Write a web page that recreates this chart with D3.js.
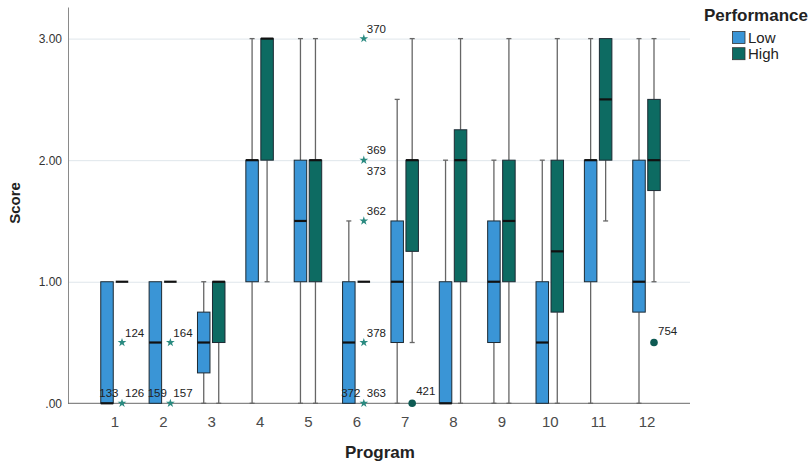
<!DOCTYPE html>
<html>
<head>
<meta charset="utf-8">
<script src="https://cdn.jsdelivr.net/npm/d3@7/dist/d3.min.js"></script>
<style>
  html, body { margin: 0; padding: 0; background: #fff; }
  svg { display: block; font-family: "Liberation Sans", Arial, sans-serif; }
</style>
</head>
<body>
<svg id="chart" width="812" height="464"></svg>
<script>
// ---- Data ----
const programs = ["1","2","3","4","5","6","7","8","9","10","11","12"];
const groups = ["Low", "High"];
const yTicks = [0, 1, 2, 3];
// [whiskerLow, q1, median, q3, whiskerHigh] per program
const lowStats = [
  [0, 0, 0, 1, 1],
  [0, 0, 0.5, 1, 1],
  [0, 0.25, 0.5, 0.75, 1],
  [0, 1, 2, 2, 3],
  [0, 1, 1.5, 2, 3],
  [0, 0, 0.5, 1, 1.5],
  [0, 0.5, 1, 1.5, 2.5],
  [0, 0, 0, 1, 2],
  [0, 0.5, 1, 1.5, 2],
  [0, 0, 0.5, 1, 2],
  [0, 1, 2, 2, 3],
  [0, 0.75, 1, 2, 3]
];
const highStats = [
  [1, 1, 1, 1, 1],
  [1, 1, 1, 1, 1],
  [0, 0.5, 1, 1, 1],
  [1, 2, 3, 3, 3],
  [0, 1, 2, 2, 3],
  [1, 1, 1, 1, 1],
  [0.5, 1.25, 2, 2, 3],
  [0, 1, 2, 2.25, 3],
  [0, 1, 1.5, 2, 3],
  [0, 0.75, 1.25, 2, 3],
  [1.5, 2, 2.5, 3, 3],
  [1, 1.75, 2, 2.5, 3]
];
// outliers: program, group, value, kind, right label, second label, second label side
const outProgram = ["1","1","2","2","6","6","6","6","6","7","12"];
const outGroup   = ["High","High","High","High","High","High","High","High","High","High","High"];
const outValue   = [0.5, 0, 0.5, 0, 3, 2, 1.5, 0.5, 0, 0, 0.5];
const outKind    = ["star","star","star","star","star","star","star","star","star","circle","circle"];
const outLabel   = ["124","126","164","157","370","369","362","378","363","421","754"];
const outLabel2  = ["","133","","159","","373","","","372","",""];
const outSide2   = ["","left","","left","","below","","","left","",""];

const colors = { Low: "#3a95d6", High: "#0d6b62" };

// ---- Layout ----
const svg = d3.select("#chart");
const mLeft = 68, mRight = 690, mTop = 7, mBottom = 403.3;

const x = d3.scalePoint().domain(programs).range([114.5, 646.5]).padding(0);
const xg = d3.scaleBand().domain(groups).range([-13.75, 13.75]).paddingInner(1/6);
const y = d3.scaleLinear().domain([0, 3.26]).range([mBottom, mTop]);

// gridlines
svg.append("g")
  .attr("transform", `translate(${mLeft},0)`)
  .call(d3.axisLeft(y).tickValues(yTicks.filter(d => d > 0)).tickSize(-(mRight - mLeft)).tickFormat(""))
  .call(g => g.select(".domain").remove())
  .call(g => g.selectAll("line").attr("stroke", "#dfe6eb").attr("stroke-width", 1));

// y axis
const yAxis = svg.append("g")
  .attr("transform", `translate(${mLeft},0)`)
  .call(d3.axisLeft(y).tickValues(yTicks).tickSize(0).tickPadding(6)
    .tickFormat(d => d === 0 ? ".00" : d3.format(".2f")(d)));
yAxis.select(".domain").attr("stroke", "#8a8a8a");
yAxis.selectAll("text").attr("font-size", 12).attr("fill", "#333")
  .attr("font-family", "Liberation Sans, Arial, sans-serif");

// x axis
const xAxis = svg.append("g")
  .attr("transform", `translate(0,${mBottom})`)
  .call(d3.axisBottom(x).tickSize(0).tickPadding(13));
xAxis.select(".domain").attr("d", `M${mLeft},0H${mRight}`).attr("stroke", "#6a6a6a");
xAxis.selectAll("text").attr("font-size", 15).attr("fill", "#4a4a4a")
  .attr("font-family", "Liberation Sans, Arial, sans-serif");

// boxes
const boxData = [];
programs.forEach((p, i) => {
  boxData.push({ p, g: "Low", s: lowStats[i] });
  boxData.push({ p, g: "High", s: highStats[i] });
});
const bw = xg.bandwidth();
const capW = 5;
const boxes = svg.append("g").selectAll("g").data(boxData).join("g")
  .attr("transform", d => `translate(${x(d.p) + xg(d.g)},0)`);

boxes.each(function(d) {
  const g = d3.select(this);
  const cx = bw / 2;
  const [wl, q1, med, q3, wh] = d.s;
  if (wl < q1) {
    g.append("line").attr("x1", cx).attr("x2", cx).attr("y1", y(q1)).attr("y2", y(wl))
      .attr("stroke", "#666").attr("stroke-width", 1.3);
    g.append("line").attr("x1", cx - capW / 2).attr("x2", cx + capW / 2).attr("y1", y(wl)).attr("y2", y(wl))
      .attr("stroke", "#666").attr("stroke-width", 1.3);
  }
  if (wh > q3) {
    g.append("line").attr("x1", cx).attr("x2", cx).attr("y1", y(q3)).attr("y2", y(wh))
      .attr("stroke", "#666").attr("stroke-width", 1.3);
    g.append("line").attr("x1", cx - capW / 2).attr("x2", cx + capW / 2).attr("y1", y(wh)).attr("y2", y(wh))
      .attr("stroke", "#666").attr("stroke-width", 1.3);
  }
  if (q3 > q1) {
    g.append("rect").attr("x", 0).attr("width", bw).attr("y", y(q3)).attr("height", y(q1) - y(q3))
      .attr("fill", colors[d.g]).attr("stroke", "#1d2a33").attr("stroke-width", 1);
  }
  g.append("line").attr("x1", 0).attr("x2", bw).attr("y1", y(med)).attr("y2", y(med))
    .attr("stroke", "#111").attr("stroke-width", 2.2);
});

// outliers
const outData = outProgram.map((p, i) => ({
  p, g: outGroup[i], v: outValue[i], kind: outKind[i],
  l1: outLabel[i], l2: outLabel2[i], side2: outSide2[i]
}));
const og = svg.append("g");
outData.forEach(d => {
  const cx = x(d.p) + xg(d.g) + bw / 2;
  const cy = y(d.v);
  if (d.kind === "star") {
    og.append("path").attr("d", d3.symbol(d3.symbolStar, 24)())
      .attr("transform", `translate(${cx},${cy})`).attr("fill", "#2a8a80");
    og.append("text").attr("x", cx + 3).attr("y", cy - 6).text(d.l1)
      .attr("font-size", 11.5).attr("fill", "#222");
    if (d.l2) {
      if (d.side2 === "left") {
        og.append("text").attr("x", cx - 3.5).attr("y", cy - 6).attr("text-anchor", "end").text(d.l2)
          .attr("font-size", 11.5).attr("fill", "#222");
      } else {
        og.append("text").attr("x", cx + 3).attr("y", cy + 15).text(d.l2)
          .attr("font-size", 11.5).attr("fill", "#222");
      }
    }
  } else {
    og.append("circle").attr("cx", cx).attr("cy", cy).attr("r", 3.8).attr("fill", "#0e5a53");
    og.append("text").attr("x", cx + 4).attr("y", cy - 8).text(d.l1)
      .attr("font-size", 11.5).attr("fill", "#222");
  }
});

// axis titles
svg.append("text").attr("x", 380).attr("y", 458).attr("text-anchor", "middle")
  .attr("font-size", 17).attr("font-weight", "bold").attr("fill", "#222").text("Program");
svg.append("text").attr("transform", "translate(20,203) rotate(-90)").attr("text-anchor", "middle")
  .attr("font-size", 15).attr("font-weight", "bold").attr("fill", "#222").text("Score");

// legend
const lg = svg.append("g");
lg.append("text").attr("x", 756).attr("y", 21).attr("text-anchor", "middle")
  .attr("font-size", 17).attr("font-weight", "bold").attr("fill", "#222").text("Performance");
groups.forEach((g, i) => {
  const yy = 31.5 + i * 16.2;
  lg.append("rect").attr("x", 732.5).attr("y", yy).attr("width", 12.5).attr("height", 12)
    .attr("fill", colors[g]).attr("stroke", "#333").attr("stroke-width", 0.8);
  lg.append("text").attr("x", 748).attr("y", yy + 11).attr("font-size", 15).attr("fill", "#222").text(g);
});
</script>
</body>
</html>
